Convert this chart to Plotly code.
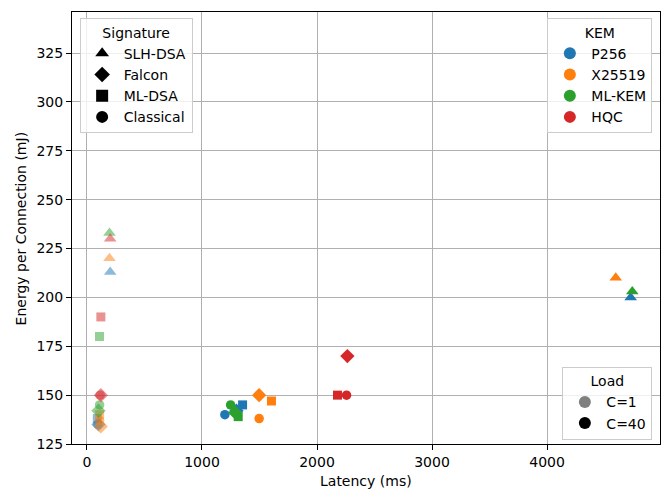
import plotly.graph_objects as go

kems = ["P256", "X25519", "ML-KEM", "HQC"]
kem_colors = ["#1f77b4", "#ff7f0e", "#2ca02c", "#d62728"]
sigs = ["SLH-DSA", "Falcon", "ML-DSA", "Classical"]
sig_symbols = ["triangle-up", "diamond", "square", "circle"]
sig_sizes = [11, 11, 9, 9.5]
loads = ["C=1", "C=40"]
load_opacity = [0.5, 1.0]

# rows = KEM, columns = signature (SLH-DSA, Falcon, ML-DSA, Classical)
latency_c1 = [
    [202, 100, 90, 95],
    [196, 120, 110, 110],
    [196, 100, 109, 110],
    [202, 121, 121, 115],
]
energy_c1 = [
    [213, 135, 138, 135],
    [220, 134, 140, 137],
    [233, 142, 180, 145],
    [230, 150, 190, 150],
]
latency_c40 = [
    [4727, 1300, 1353, 1199],
    [4597, 1497, 1604, 1497],
    [4741, 1290, 1315, 1249],
    [None, 2264, 2178, 2257],
]
energy_c40 = [
    [200, 142, 145, 140],
    [210, 150, 147, 138],
    [203, 141, 139, 145],
    [None, 170, 150, 150],
]

x_ticks = [0, 1000, 2000, 3000, 4000]
y_ticks = [125, 150, 175, 200, 225, 250, 275, 300, 325]

lat_by_load = [latency_c1, latency_c40]
en_by_load = [energy_c1, energy_c40]

fig = go.Figure()

for li, load in enumerate(loads):
    for ki, kem in enumerate(kems):
        for si, sig in enumerate(sigs):
            x = lat_by_load[li][ki][si]
            y = en_by_load[li][ki][si]
            if x is None:
                continue
            fig.add_trace(go.Scatter(
                x=[x], y=[y], mode="markers",
                marker=dict(symbol=sig_symbols[si], size=sig_sizes[si],
                            color=kem_colors[ki], line=dict(width=0)),
                opacity=load_opacity[li], showlegend=False,
                hovertext=f"{kem} / {sig} / {load}",
            ))

# legend entries
for si, sig in enumerate(sigs):
    fig.add_trace(go.Scatter(x=[None], y=[None], mode="markers", name=sig,
                             marker=dict(symbol=sig_symbols[si], size=sig_sizes[si] - 1, color="black"),
                             legend="legend"))
for ki, kem in enumerate(kems):
    fig.add_trace(go.Scatter(x=[None], y=[None], mode="markers", name=kem,
                             marker=dict(symbol="circle", size=9, color=kem_colors[ki]),
                             legend="legend2"))
load_colors = ["gray", "black"]
for li, load in enumerate(loads):
    fig.add_trace(go.Scatter(x=[None], y=[None], mode="markers", name=load,
                             marker=dict(symbol="circle", size=9, color=load_colors[li]),
                             legend="legend3"))

font = dict(family="DejaVu Sans", size=14, color="black")
leg_common = dict(bgcolor="rgba(255,255,255,0.8)", bordercolor="#cccccc", borderwidth=1,
                  font=font, itemsizing="constant", itemwidth=33)

fig.update_layout(
    width=667, height=489,
    margin=dict(l=72, r=7, t=12, b=45),
    plot_bgcolor="white", paper_bgcolor="white",
    font=font,
    legend=dict(title=dict(text="Signature", side="top center", font=font),
                x=0.013, y=0.985, xanchor="left", yanchor="top", **leg_common),
    legend2=dict(title=dict(text="KEM", side="top center", font=font),
                 x=0.987, y=0.985, xanchor="right", yanchor="top", **leg_common),
    legend3=dict(title=dict(text="Load", side="top center", font=font),
                 x=0.987, y=0.009, xanchor="right", yanchor="bottom", **leg_common),
    xaxis=dict(range=[-130, 4982], tickvals=x_ticks,
               showgrid=True, gridcolor="#b0b0b0", gridwidth=0.8,
               showline=True, linecolor="black", linewidth=1, mirror=True,
               ticks="outside", ticklen=5, tickcolor="black", zeroline=False,
               tickfont=font, automargin=False),
    yaxis=dict(range=[125, 346], tickvals=y_ticks,
               showgrid=True, gridcolor="#b0b0b0", gridwidth=0.8,
               showline=True, linecolor="black", linewidth=1, mirror=True,
               ticks="outside", ticklen=5, tickcolor="black", zeroline=False,
               tickfont=font, automargin=False),
    annotations=[
        dict(text="Latency (ms)", xref="paper", yref="paper", x=0.5, y=-0.085,
             xanchor="center", yanchor="middle", showarrow=False, font=font),
        dict(text="Energy per Connection (mJ)", xref="paper", yref="paper", x=-0.086, y=0.5,
             xanchor="center", yanchor="middle", showarrow=False, textangle=-90, font=font),
    ],
)

fig.write_html("out.html", config={"displayModeBar": False},
               post_script="document.body.style.margin='0';document.documentElement.style.overflow='hidden';")
